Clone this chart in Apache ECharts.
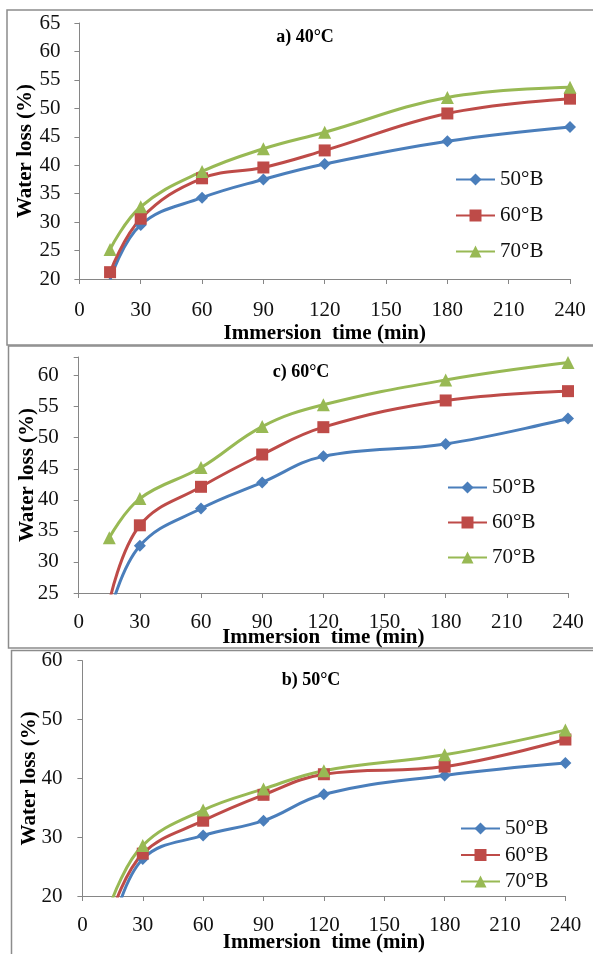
<!DOCTYPE html>
<html>
<head>
<meta charset="utf-8">
<script src="https://cdn.jsdelivr.net/npm/echarts@6/dist/echarts.min.js"></script>
<style>
html,body{margin:0;padding:0;background:#fff;}
#chart{width:593px;height:954px;}
</style>
</head>
<body>
<div id="chart"></div>
<script>
// immersion times (min)
var minutes = [15, 30, 60, 90, 120, 180, 240];
var xTicks = [0, 30, 60, 90, 120, 150, 180, 210, 240];
var brixNames = ['50°B', '60°B', '70°B'];
var panelTitles = ['a) 40°C', 'c) 60°C', 'b) 50°C'];

// water loss (%)
var a50 = [19.9, 29.5, 34.3, 37.5, 40.2, 44.2, 46.7];
var a60 = [21.2, 30.6, 37.7, 39.6, 42.6, 49.1, 51.7];
var a70 = [25.2, 32.7, 38.9, 42.9, 45.8, 51.9, 53.7];

var c50 = [21.5, 32.6, 38.6, 42.8, 47.0, 49.0, 53.1];
var c60 = [23.5, 35.9, 42.1, 47.3, 51.7, 56.0, 57.5];
var c70 = [33.9, 40.2, 45.2, 51.8, 55.3, 59.3, 62.1];

var b50 = [14.5, 26.3, 30.3, 32.8, 37.3, 40.5, 42.6];
var b60 = [17.5, 27.2, 32.8, 37.2, 40.7, 42.0, 46.6];
var b70 = [19.6, 28.6, 34.6, 38.2, 41.3, 44.0, 48.2];

var font = 'Liberation Serif';
var colors = ['#4A7EBB', '#BE4B48', '#98B954'];
var symbols = ['diamond', 'rect', 'triangle'];
var sizes = [12, 12, 13];

var panels = [
  {grid: {left: 79.4, top: 23, width: 490.6, height: 256}, yMin: 20, yMax: 65, yStep: 5,
   data: [a50, a60, a70], yGap: 43, xGap: 44, xMargin: 21, yMargin: 19,
   title: {x: 300, y: 23}, legend: {left: 450, top: 164, gap: 15}},
  {grid: {left: 78.7, top: 357, width: 489.3, height: 236}, yMin: 25, yMax: 63, yStep: 5,
   data: [c50, c60, c70], yGap: 41, xGap: 34, xMargin: 19, yMargin: 20,
   title: {x: 296, y: 358}, legend: {left: 442, top: 472, gap: 14}},
  {grid: {left: 82.4, top: 660.7, width: 483, height: 235.6}, yMin: 20, yMax: 60, yStep: 10,
   data: [b50, b60, b70], yGap: 42, xGap: 36, xMargin: 19, yMargin: 20,
   title: {x: 306, y: 666}, legend: {left: 455, top: 813, gap: 5.5}}
];

var axisLine = {show: true, lineStyle: {color: '#868686', width: 1}};
var grids = [], xAxes = [], yAxes = [], series = [], legends = [], titles = [];

panels.forEach(function (p, i) {
  grids.push(p.grid);
  xAxes.push({
    type: 'value', gridIndex: i, min: 0, max: 240, interval: 30,
    name: 'Immersion  time (min)', nameLocation: 'middle', nameGap: p.xGap,
    nameMoveOverlap: false,
    nameTextStyle: {fontFamily: font, fontSize: 21, fontWeight: 'bold', color: '#000'},
    axisLine: axisLine, splitLine: {show: false},
    axisTick: {show: true, length: 5, lineStyle: {color: '#868686'}},
    axisLabel: {fontFamily: font, fontSize: 21, color: '#111', margin: p.xMargin,
      formatter: function (v) { return xTicks.indexOf(v) >= 0 ? String(v) : ''; }}
  });
  yAxes.push({
    type: 'value', gridIndex: i, min: p.yMin, max: p.yMax, interval: p.yStep,
    name: 'Water loss (%)', nameLocation: 'middle', nameGap: p.yGap,
    nameMoveOverlap: false,
    nameTextStyle: {fontFamily: font, fontSize: 21, fontWeight: 'bold', color: '#000'},
    axisLine: axisLine, splitLine: {show: false},
    axisTick: {show: true, length: 5, lineStyle: {color: '#868686'}},
    axisLabel: {fontFamily: font, fontSize: 21, color: '#111', margin: p.yMargin,
      formatter: function (v) { return v % p.yStep === 0 ? String(v) : ''; }}
  });
  titles.push({
    text: panelTitles[i], left: p.title.x, top: p.title.y, textAlign: 'center',
    textStyle: {fontFamily: font, fontSize: 18, fontWeight: 'bold', color: '#000'}
  });
  legends.push({
    data: brixNames, orient: 'vertical', left: p.legend.left, top: p.legend.top,
    itemGap: p.legend.gap, itemWidth: 39, itemHeight: 15,
    textStyle: {fontFamily: font, fontSize: 21, color: '#111', padding: [0, 0, 0, 0]}
  });
  p.data.forEach(function (vals, k) {
    series.push({
      type: 'line', name: brixNames[k], xAxisIndex: i, yAxisIndex: i,
      data: minutes.map(function (m, j) { return [m, vals[j]]; }),
      smooth: 0.4, clip: true,
      symbol: symbols[k], symbolSize: sizes[k],
      lineStyle: {color: colors[k], width: 3},
      itemStyle: {color: colors[k]},
      animation: false
    });
  });
});

var chart = echarts.init(document.getElementById('chart'));
chart.setOption({
  backgroundColor: '#fff',
  animation: false,
  title: titles,
  legend: legends,
  grid: grids,
  xAxis: xAxes,
  yAxis: yAxes,
  series: series,
  graphic: [
    {type: 'rect', z: -1, shape: {x: 7, y: 10, width: 600, height: 335}, style: {fill: null, stroke: '#8c8c8c', lineWidth: 1.5}},
    {type: 'rect', z: -1, shape: {x: 8.5, y: 346, width: 600, height: 302}, style: {fill: null, stroke: '#8c8c8c', lineWidth: 1.5}},
    {type: 'rect', z: -1, shape: {x: 11.5, y: 650.5, width: 600, height: 320}, style: {fill: null, stroke: '#8c8c8c', lineWidth: 1.5}}
  ]
});
</script>
</body>
</html>
